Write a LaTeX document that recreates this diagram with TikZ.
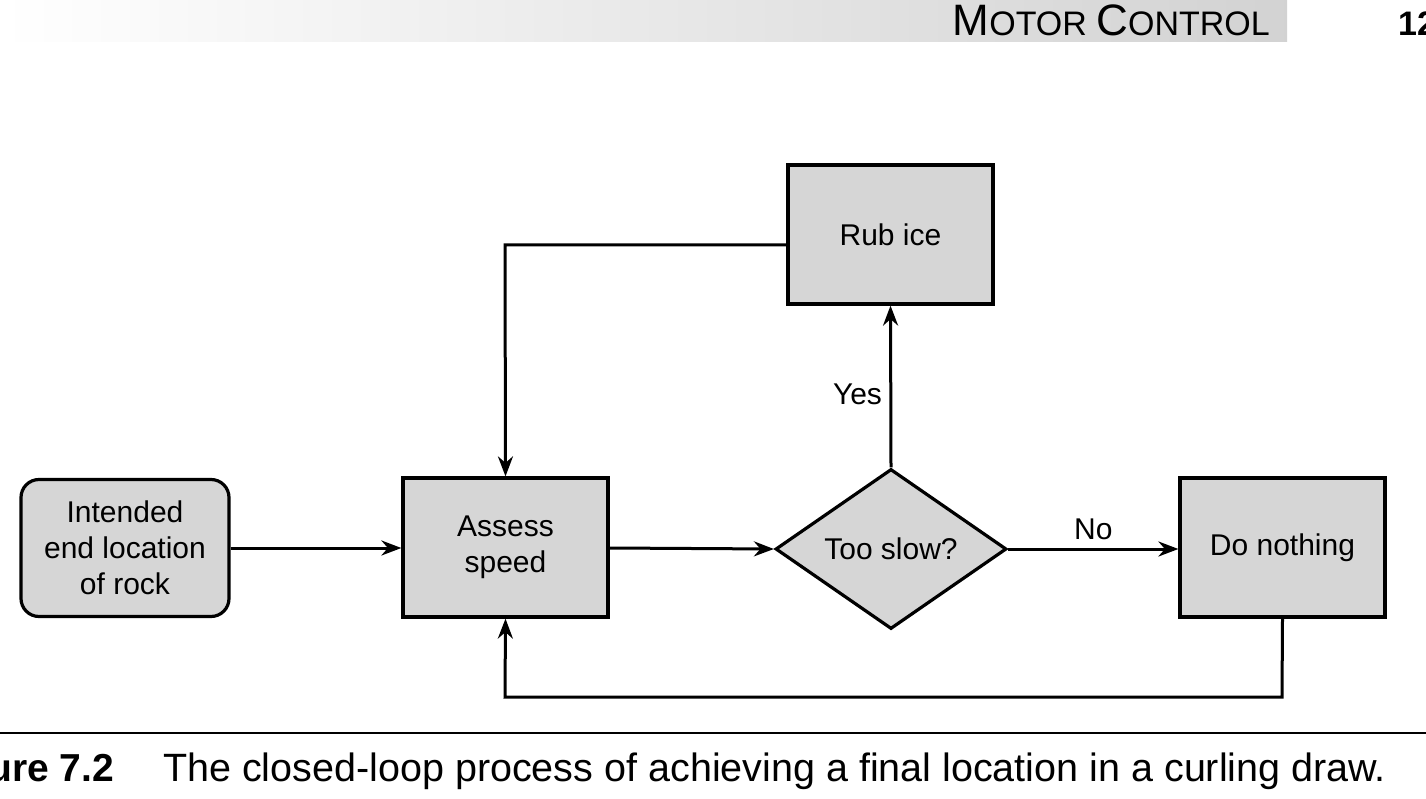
\documentclass[tikz,border=0pt]{standalone}
\usepackage{fontspec}
\setmainfont{Liberation Sans}
\usetikzlibrary{shapes.geometric,arrows.meta}
\definecolor{boxg}{gray}{0.84}
\begin{document}
\begin{tikzpicture}[x=1pt,y=-1pt,
  box/.style={draw,line width=3.2pt,fill=boxg,minimum width=205pt,minimum height=139pt,align=center,font=\fontsize{30}{36}\selectfont,inner sep=0pt},
  arr/.style={line width=3pt,-{Stealth[length=20pt,width=15pt]}},
  lab/.style={font=\fontsize{30}{34}\selectfont}]
\useasboundingbox (0,0) rectangle (1426,799);
\shade[left color=white,right color=gray!35] (0,0) rectangle (1287,42);
\node[anchor=base east,font=\fontsize{44}{48}\selectfont,inner sep=0pt] (hdr) at (1270,36) {M\fontsize{34}{40}\selectfont OTOR \fontsize{44}{48}\selectfont C\fontsize{34}{40}\selectfont ONTROL};
\node[anchor=base west,font=\fontsize{34}{38}\selectfont\bfseries,inner sep=0pt] (pg) at (1398,36) {12};
\node[box,rounded corners=18pt,minimum width=208pt,minimum height=137pt] (int) at (125,548) {Intended\\end location\\of rock};
\node[box] (as) at (505.5,547.5) {Assess\\speed};
\node[draw,line width=3.2pt,fill=boxg,diamond,aspect=1.44,minimum width=231pt,minimum height=160pt,inner sep=0pt,font=\fontsize{30}{36}\selectfont] (ts) at (891,549) {Too slow?};
\node[box] (rub) at (890.5,234.5) {Rub ice};
\node[box] (dn) at (1282.5,547.5) {Do nothing};
\draw[arr] (int.east |- 0,548) -- (as.west |- 0,548);
\draw[arr] (as.east |- 0,548) -- (ts.west);
\draw[arr] (ts.east) -- node[lab,above=4pt] {No} (dn.west |- ts.east);
\draw[arr] (ts.north) -- node[lab,pos=0.45,left=4pt] {Yes} (rub.south);
\draw[arr] (rub.west |- 0,245) -- (505,245) -- (as.north);
\draw[arr] (dn.south) -- (1282,697) -- (505,697) -- (as.south);
\draw[line width=1.6pt] (0,733) -- (1426,733);
\node[anchor=base west,font=\fontsize{39}{42}\selectfont\bfseries,inner sep=0pt] (fig) at (-12,781) {ure 7.2};
\node[anchor=base west,font=\fontsize{39.5}{42}\selectfont,inner sep=0pt] (cap) at (163,781) {The closed-loop process of achieving a final location in a curling draw.};
\end{tikzpicture}
\end{document}
